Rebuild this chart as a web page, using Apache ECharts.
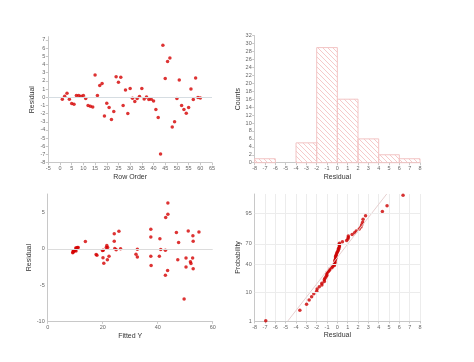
<!DOCTYPE html>
<html><head><meta charset="utf-8">
<script src="https://cdn.jsdelivr.net/npm/echarts@6/dist/echarts.min.js"></script>
<style>html,body{margin:0;padding:0;background:#fff}#c{width:474px;height:362px}</style>
</head><body><div id="c"></div>
<script>
// ---- data ----
const rowOrder = Array.from({length:60},(_,i)=>i+1);
const residual = [-0.24,0.12,0.49,-0.24,-0.77,-0.86,0.2,0.2,0.12,0.2,
 -0.16,-1.0,-1.1,-1.2,2.73,0.2,1.43,1.67,-2.28,-0.73,
 -1.26,-2.73,-1.75,2.49,1.83,2.45,-1.02,0.9,-2.0,1.06,
 -0.12,-0.53,-0.16,0.08,1.06,-0.2,0.02,-0.29,-0.24,-0.45,
 -1.5,-2.49,-6.93,6.36,2.28,4.36,4.81,-3.63,-2.98,-0.16,
 2.12,-1.02,-1.5,-1.96,-1.26,1.02,-0.29,2.36,-0.04,-0.08];
const fittedY = [9.5,10.2,21.5,9.3,17.6,17.9,11.1,21.3,10.5,21.8,
 10.0,22.3,32.6,20.1,37.5,10.8,40.8,37.5,37.6,32.1,
 52.7,52.9,51.9,51.1,52.8,25.9,37.5,47.6,52.1,24.2,
 24.9,9.1,20.2,24.4,52.9,19.9,26.5,9.4,9.8,9.2,
 21.7,50.3,49.6,43.7,46.8,42.9,43.7,42.8,43.6,42.8,
 24.2,40.6,47.3,20.4,50.3,13.7,10.3,55.0,32.6,41.1];
const binStart = [-8,-6,-4,-2,0,2,4,6];
const binEnd   = [-6,-4,-2,0,2,4,6,8];
const binCount = [1,0,5,29,16,6,2,1];
const probTicks = [1,10,40,70,95];

// ---- helpers ----
function qnorm(p){
  const a=[-3.969683028665376e+01,2.209460984245205e+02,-2.759285104469687e+02,1.383577518672690e+02,-3.066479806614716e+01,2.506628277459239e+00];
  const b=[-5.447609879822406e+01,1.615858368580409e+02,-1.556989798598866e+02,6.680131188771972e+01,-1.328068155288572e+01];
  const c=[-7.784894002430293e-03,-3.223964580411365e-01,-2.400758277161838e+00,-2.549732539343734e+00,4.374664141464968e+00,2.938163982698783e+00];
  const d=[7.784695709041462e-03,3.224671290700398e-01,2.445134137142996e+00,3.754408661907416e+00];
  const pl=0.02425, ph=1-pl; let q,r;
  if(p<pl){q=Math.sqrt(-2*Math.log(p));return (((((c[0]*q+c[1])*q+c[2])*q+c[3])*q+c[4])*q+c[5])/((((d[0]*q+d[1])*q+d[2])*q+d[3])*q+1);}
  if(p<=ph){q=p-0.5;r=q*q;return (((((a[0]*r+a[1])*r+a[2])*r+a[3])*r+a[4])*r+a[5])*q/(((((b[0]*r+b[1])*r+b[2])*r+b[3])*r+b[4])*r+1);}
  q=Math.sqrt(-2*Math.log(1-p));return -(((((c[0]*q+c[1])*q+c[2])*q+c[3])*q+c[4])*q+c[5])/((((d[0]*q+d[1])*q+d[2])*q+d[3])*q+1);
}
const n = residual.length;
const sorted = residual.slice().sort((a,b)=>a-b);
const probData = sorted.map((v,i)=>[v, qnorm((i+1-0.375)/(n+0.25))]);
const mean = residual.reduce((s,v)=>s+v,0)/n;
const sd = Math.sqrt(residual.reduce((s,v)=>s+(v-mean)*(v-mean),0)/(n-1));
const zMin = qnorm(0.01), zMax = 2.36;
const tickZ = probTicks.map(p=>qnorm(p/100));

// hatch pattern
const pc = document.createElement('canvas'); pc.width=5; pc.height=5;
const g = pc.getContext('2d'); g.strokeStyle='#f3bcbc'; g.lineWidth=0.8;
g.beginPath(); g.moveTo(-1,-1); g.lineTo(6,6); g.moveTo(-1,4); g.lineTo(1,6); g.moveTo(4,-1); g.lineTo(6,1); g.stroke();

const FONT = 'Liberation Sans';
const RED = '#d40000';
const intFmt = v => String(Math.round(v));
function axisCommon(extra){
  return Object.assign({
    axisLine:{show:true,onZero:false,lineStyle:{color:'#c8c8c8',width:1}},
    axisTick:{show:true,length:2.5,lineStyle:{color:'#c8c8c8'}},
    axisLabel:{fontFamily:FONT,fontSize:5.5,color:'#666',margin:3,formatter:intFmt},
    splitLine:{show:false},
    nameTextStyle:{fontFamily:FONT,fontSize:7,color:'#333'},
    nameLocation:'middle'
  }, extra);
}

const chart = echarts.init(document.getElementById('c'), null, {renderer:'canvas'});
chart.setOption({
  animation:false,
  backgroundColor:'#fff',
  grid:[
    {left:48.3, top:36.7, width:163.7, height:126},
    {left:254.7, top:35.7, width:165.3, height:127},
    {left:47.7, top:194, width:165, height:127.3},
    {left:254.7, top:194, width:165.3, height:127}
  ],
  xAxis:[
    axisCommon({gridIndex:0,type:'value',min:-5,max:65,interval:5,name:'Row Order',nameGap:11}),
    axisCommon({gridIndex:1,type:'value',min:-8,max:8,interval:1,name:'Residual',nameGap:11}),
    axisCommon({gridIndex:2,type:'value',min:0,max:60,interval:20,name:'Fitted Y',nameGap:11}),
    axisCommon({gridIndex:3,type:'value',min:-8,max:8,interval:1,name:'Residual',nameGap:11,
      splitLine:{show:true,lineStyle:{color:'#ececec',width:1}}})
  ],
  yAxis:[
    axisCommon({gridIndex:0,type:'value',min:-8,max:7.4,interval:1,name:'Residual',nameGap:13,
      axisLabel:{fontFamily:FONT,fontSize:5.5,color:'#666',margin:3,showMaxLabel:false,formatter:intFmt}}),
    axisCommon({gridIndex:1,type:'value',min:0,max:32,interval:2,name:'Counts',nameGap:11}),
    axisCommon({gridIndex:2,type:'value',min:-10,max:7.6,interval:5,name:'Residual',nameGap:15,
      axisLabel:{fontFamily:FONT,fontSize:5.5,color:'#666',margin:3,showMaxLabel:false,formatter:intFmt},
      axisTick:{show:false}}),
    axisCommon({gridIndex:3,type:'value',min:zMin,max:zMax,name:'Probability',nameGap:11,
      axisTick:{show:false},
      axisLabel:{fontFamily:FONT,fontSize:5.5,color:'#666',margin:3,customValues:tickZ,
        formatter:v=>{for(let i=0;i<tickZ.length;i++){if(Math.abs(tickZ[i]-v)<1e-6)return String(probTicks[i]);}return '';}}})
  ],
  series:[
    {type:'scatter',xAxisIndex:0,yAxisIndex:0,symbolSize:3.5,itemStyle:{color:RED},
      data:rowOrder.map((r,i)=>[r,residual[i]]),
      markLine:{silent:true,symbol:'none',label:{show:false},lineStyle:{color:'#d6dde2',type:'solid',width:1},data:[{yAxis:0}]}},
    {type:'custom',xAxisIndex:1,yAxisIndex:1,encode:{x:[0,1],y:2},
      data:binStart.map((s,i)=>[s,binEnd[i],binCount[i]]).filter(d=>d[2]>0),
      renderItem:(params,api)=>{
        const p0=api.coord([api.value(0),api.value(2)]);
        const p1=api.coord([api.value(1),0]);
        return {type:'rect',shape:{x:p0[0],y:p0[1],width:p1[0]-p0[0],height:p1[1]-p0[1]},
          style:{fill:{image:pc,repeat:'repeat'},stroke:'#f2c4c4',lineWidth:1}};
      }},
    {type:'scatter',xAxisIndex:2,yAxisIndex:2,symbolSize:3.5,itemStyle:{color:RED},
      data:fittedY.map((f,i)=>[f,residual[i]]),
      markLine:{silent:true,symbol:'none',label:{show:false},lineStyle:{color:'#dcdcdc',type:'solid',width:1},data:[{yAxis:0}]}},
    {type:'line',xAxisIndex:3,yAxisIndex:3,showSymbol:false,silent:true,
      lineStyle:{color:'#e6d0d0',width:1},
      data:[[mean+sd*zMin,zMin],[mean+sd*zMax,zMax]],
      markLine:{silent:true,symbol:'none',label:{show:false},lineStyle:{color:'#ececec',type:'solid',width:1},
        data:tickZ.map(z=>({yAxis:z}))}},
    {type:'scatter',xAxisIndex:3,yAxisIndex:3,symbolSize:3.5,itemStyle:{color:'#cc0000'},data:probData}
  ]
});
</script></body></html>
